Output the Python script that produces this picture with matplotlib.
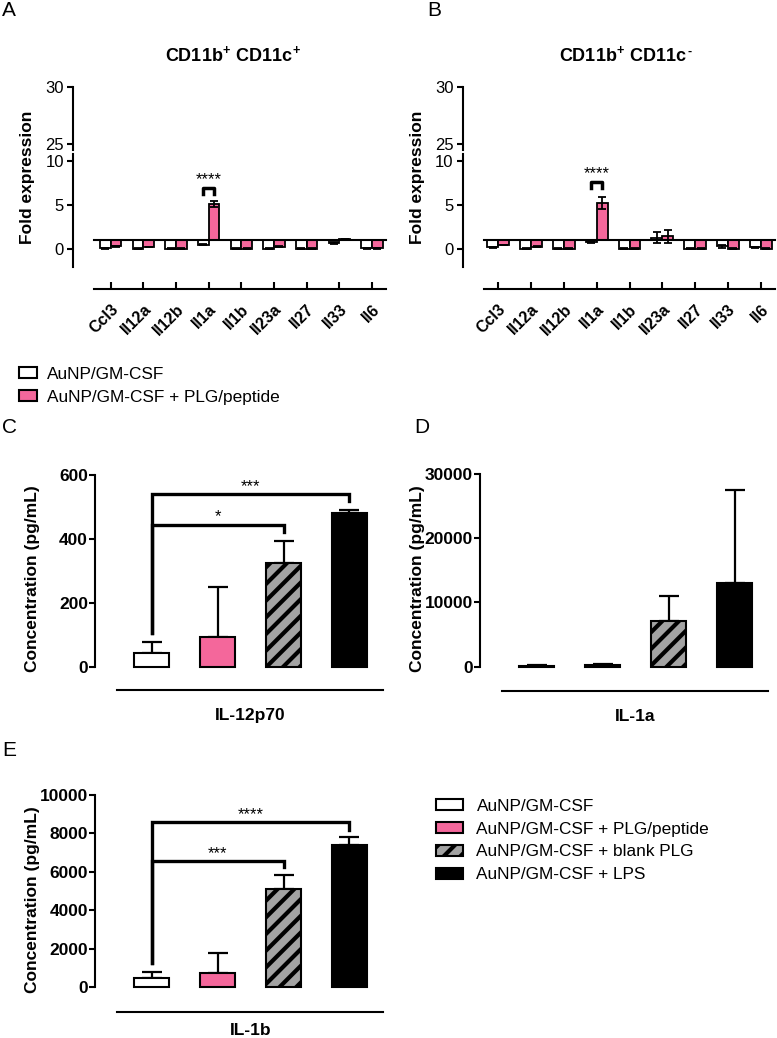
import numpy as np
import matplotlib
matplotlib.use("Agg")
import matplotlib.pyplot as plt
from matplotlib.patches import Patch

plt.rcParams['font.family'] = ['Liberation Sans', 'DejaVu Sans']
plt.rcParams['mathtext.fontset'] = 'custom'
plt.rcParams['mathtext.rm'] = 'Liberation Sans'
plt.rcParams['mathtext.bf'] = 'Liberation Sans:bold'
plt.rcParams['hatch.linewidth'] = 3.0
plt.rcParams['hatch.color'] = 'black'

# ---------------- data ----------------
genes = ['Ccl3', 'Il12a', 'Il12b', 'Il1a', 'Il1b', 'Il23a', 'Il27', 'Il33', 'Il6']
A_ctrl = [0.08, 0.04, 0.04, 0.50, 0.04, 0.04, 0.04, 0.65, 0.08]
A_ctrl_err = [0.05, 0.04, 0.02, 0.08, 0.02, 0.03, 0.02, 0.12, 0.03]
A_pep = [0.30, 0.22, 0.04, 5.10, 0.05, 0.28, 0.05, 1.10, 0.06]
A_pep_err = [0.05, 0.05, 0.02, 0.30, 0.02, 0.05, 0.02, 0.05, 0.03]
B_ctrl = [0.20, 0.04, 0.04, 0.75, 0.04, 1.30, 0.04, 0.30, 0.20]
B_ctrl_err = [0.05, 0.03, 0.02, 0.05, 0.02, 0.60, 0.02, 0.15, 0.05]
B_pep = [0.45, 0.25, 0.04, 5.20, 0.05, 1.45, 0.05, 0.04, 0.04]
B_pep_err = [0.05, 0.05, 0.02, 0.70, 0.02, 0.75, 0.02, 0.03, 0.03]

groups = ['AuNP/GM-CSF', 'AuNP/GM-CSF + PLG/peptide',
          'AuNP/GM-CSF + blank PLG', 'AuNP/GM-CSF + LPS']
C_mean = [43, 92, 325, 482]
C_err = [35, 156, 69, 10]
D_mean = [150, 200, 7100, 13050]
D_err = [100, 250, 3950, 14400]
E_mean = [470, 730, 5100, 7380]
E_err = [340, 1040, 740, 430]

PINK = '#f4679b'
GRAY = '#a3a3a3'
face = ['white', PINK, GRAY, 'black']
hatches = [None, None, '//', None]

W, H = 777, 1038
fig = plt.figure(figsize=(W / 100, H / 100), dpi=100)


def ax_at(x0, y0, x1, y1):
    return fig.add_axes([x0 / W, 1 - y1 / H, (x1 - x0) / W, (y1 - y0) / H])


LW = 1.5


def style_left(ax, bold=False, size=12, pad=2):
    for s in ['top', 'right', 'bottom']:
        ax.spines[s].set_visible(False)
    ax.spines['left'].set_linewidth(LW)
    ax.tick_params(axis='y', length=4.5, width=LW, labelsize=size, pad=pad)
    if bold:
        for t in ax.get_yticklabels():
            t.set_fontweight('bold')


# ---------------- panels A & B ----------------
def fold_panel(xl, xr, x0, spacing, ctrl, cerr, pep, perr, title, star_y, bracket_y, leg_y, letter, letter_x):
    xmin = -(x0 - xl) / spacing
    xmax = (xr - x0) / spacing
    xstart = -(x0 - (xl + 21)) / spacing
    # top segment
    axt = ax_at(xl, 87, xr, 150)
    axt.set_ylim(24.47, 30)
    axt.set_xlim(xmin, xmax)
    axt.set_yticks([25, 30])
    axt.set_xticks([])
    style_left(axt)
    axt.spines['left'].set_bounds(24.47, 30)
    axt.patch.set_visible(False)
    # bottom segment
    ax = ax_at(xl, 154, xr, 289)
    ax.set_ylim(-4.55, 10.8)
    ax.set_xlim(xmin, xmax)
    ax.set_yticks([0, 5, 10])
    style_left(ax)
    ax.spines['left'].set_bounds(-2, 10.8)
    ax.spines['bottom'].set_visible(True)
    ax.spines['bottom'].set_linewidth(LW)
    ax.spines['bottom'].set_bounds(xstart, xmax)
    ax.patch.set_visible(False)
    x = np.arange(len(genes))
    w = 0.33
    c = np.array(ctrl)
    p = np.array(pep)
    ax.bar(x - w / 2, c - 1, bottom=1, width=w, color='white', edgecolor='black', linewidth=1.3, zorder=3)
    ax.bar(x + w / 2, p - 1, bottom=1, width=w, color=PINK, edgecolor='black', linewidth=1.3, zorder=3)
    ax.errorbar(x - w / 2, c, yerr=cerr, fmt='none', ecolor='black', elinewidth=1.3, capsize=3, capthick=1.3, zorder=4)
    ax.errorbar(x + w / 2, p, yerr=perr, fmt='none', ecolor='black', elinewidth=1.3, capsize=3, capthick=1.3, zorder=4)
    ax.plot([xstart, xmax], [1, 1], color='black', lw=LW, zorder=5, clip_on=False)
    ax.set_xticks(x)
    ax.set_xticklabels(genes, rotation=45, ha='right', va='top', rotation_mode='anchor',
                       fontweight='bold', fontsize=11.5)
    ax.tick_params(axis='x', direction='in', length=5, width=LW, pad=9)
    # significance bracket over Il1a
    i = genes.index('Il1a')
    ax.plot([i - w / 2, i - w / 2, i + w / 2, i + w / 2],
            [leg_y, bracket_y, bracket_y, leg_y], color='black', lw=2.5, zorder=5)
    ax.text(i, star_y, '****', ha='center', va='bottom', fontsize=12)
    ax.set_ylabel('Fold expression', fontweight='bold', fontsize=12.5)
    ax.yaxis.set_label_coords(-38 / (xr - xl), (289 - 177) / 135)
    t = fig.text((xl + xr) / 2 / W + 0.005, 1 - 55 / H, title, ha='center', va='center', fontsize=13)
    fig.text(letter_x / W, 1 - 10 / H, letter, ha='left', va='center', fontsize=15)
    return ax, t


fold_panel(73, 386, 110.7, 32.66, A_ctrl, A_ctrl_err, A_pep, A_pep_err,
           r'$\mathbf{CD11b^{+}\ CD11c^{+}}$', 7.0, 6.9, 6.3, 'A', 2)
axB, tB = fold_panel(462.7, 775, 498.3, 32.8, B_ctrl, B_ctrl_err, B_pep, B_pep_err,
                     r'$\mathbf{CD11b^{+}\ CD11c}$', 7.75, 7.65, 6.9, 'B', 427)
# superscript hyphen after the B title (short hyphen as in the reference)
fig.canvas.draw()
bb = tB.get_window_extent()
fig.text((bb.x1 + 0.5) / W, (bb.y1 - 1) / H, '-', ha='left', va='top', fontsize=9, fontweight='bold')

# top legend
handles2 = [Patch(facecolor=face[k], edgecolor='black', linewidth=1.5) for k in range(2)]
fig.legend(handles2, groups[:2], loc='upper left', bbox_to_anchor=(19 / W, 1 - 367 / H),
           frameon=False, fontsize=12.4, handlelength=1.05, handleheight=0.6,
           handletextpad=0.55, labelspacing=0.45, borderaxespad=0, borderpad=0)


# ---------------- panels C, D, E ----------------
def conc_panel(xl, xr, x0, ytop_px, y0_px, ybot_px, ymax, ticks, mean, err, cat, letter, lx, ly, catpad=13):
    sp = 66.0
    scale = (y0_px - ytop_px) / ymax
    ax = ax_at(xl, ytop_px - 8, xr, ybot_px)
    ax.set_ylim(-(ybot_px - y0_px) / scale, ymax + 8 / scale)
    ax.set_xlim(-(x0 - xl) / sp, (xr - x0) / sp)
    x = np.arange(4)
    for k in range(4):
        ax.bar(x[k], mean[k], width=0.52, color=face[k], edgecolor='black', linewidth=1.5,
               hatch=hatches[k], zorder=3)
    ax.errorbar(x, mean, yerr=[np.zeros(4), err], fmt='none', ecolor='black',
                elinewidth=1.6, capsize=7, capthick=1.6, zorder=2)
    style_left(ax, bold=True, size=12.5, pad=0.5)
    ax.set_yticks(ticks)
    ax.set_yticklabels([str(t) for t in ticks], fontweight='bold')
    ax.spines['left'].set_bounds(0, ymax)
    ax.spines['bottom'].set_visible(True)
    ax.spines['bottom'].set_linewidth(LW)
    ax.spines['bottom'].set_bounds(-(x0 - (xl + 22)) / sp, (xr - x0) / sp)
    ax.set_xticks([1.5])
    ax.set_xticklabels([cat], fontweight='bold', fontsize=12.5)
    ax.tick_params(axis='x', length=0, pad=catpad)
    ax.set_ylabel('Concentration (pg/mL)', fontweight='bold', fontsize=12.5)
    ax.yaxis.set_label_coords(-55 / (xr - xl), 0.5)
    ax.patch.set_visible(False)
    fig.text(lx / W, 1 - ly / H, letter, ha='left', va='center', fontsize=15)
    return ax


def bracket(ax, x1, x2, y, yl, yr, label):
    ax.plot([x1, x1, x2, x2], [yl, y, y, yr], color='black', lw=2.4, zorder=5,
            solid_joinstyle='miter', clip_on=False)
    ax.text((x1 + x2) / 2, y, label, ha='center', va='bottom', fontsize=12)


axC = conc_panel(95, 383, 151.5, 475, 666.7, 690, 600, [0, 200, 400, 600],
                 C_mean, C_err, 'IL-12p70', 'C', 2, 427)
bracket(axC, 0, 3, 540, 105, 520, '***')
bracket(axC, 0, 2, 445, 105, 422, '*')

axD = conc_panel(480, 768, 536.5, 474, 666.7, 690.7, 30000, [0, 10000, 20000, 30000],
                 D_mean, D_err, 'IL-1a', 'D', 414, 427)

axE = conc_panel(95, 383, 151.5, 795, 987.3, 1011.7, 10000, [0, 2000, 4000, 6000, 8000, 10000],
                 E_mean, E_err, 'IL-1b', 'E', 2, 750, catpad=8)
bracket(axE, 0, 3, 8580, 1260, 8180, '****')
bracket(axE, 0, 2, 6584, 1260, 6272, '***')

handles4 = [Patch(facecolor=face[k], edgecolor='black', linewidth=1.5, hatch=hatches[k]) for k in range(4)]
fig.legend(handles4, groups, loc='upper left', bbox_to_anchor=(436 / W, 1 - 799 / H),
           frameon=False, fontsize=12.4, handlelength=1.55, handleheight=0.6,
           handletextpad=0.8, labelspacing=0.45, borderaxespad=0, borderpad=0)

fig.savefig('out.png', dpi=100)
